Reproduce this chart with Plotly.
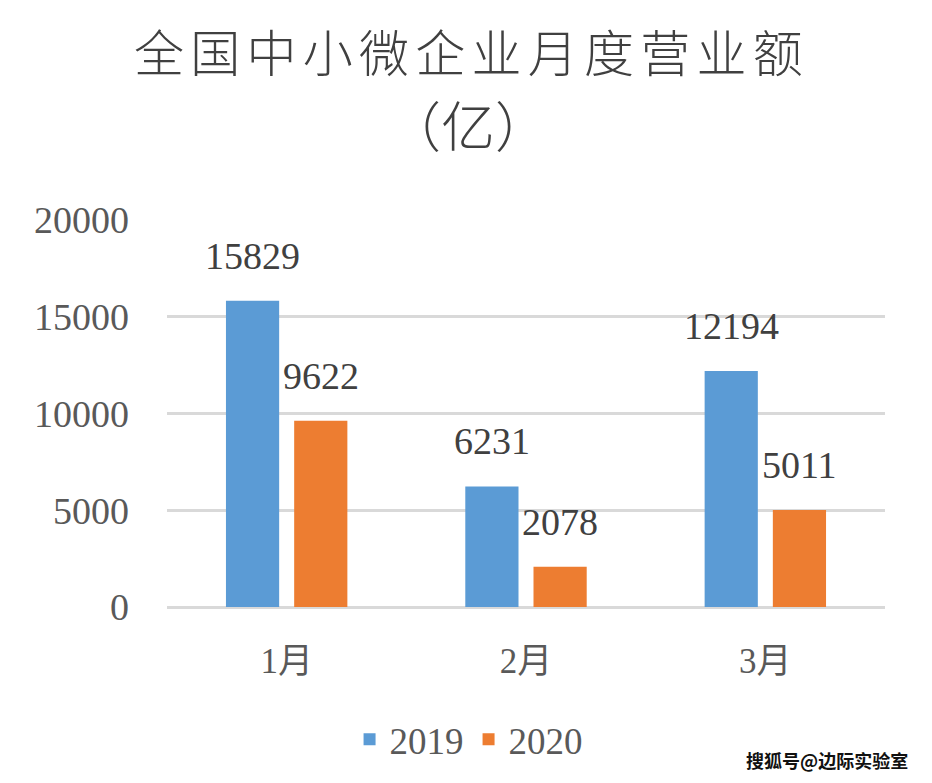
import plotly.graph_objects as go

categories = ["1月", "2月", "3月"]
series_names = ["2019", "2020"]
values_2019 = [15829, 6231, 12194]
values_2020 = [9622, 2078, 5011]
colors = ["#5B9BD5", "#ED7D31"]
y_ticks = [0, 5000, 10000, 15000, 20000]
y_tick_text = ["0", "5000", "10000", "15000", "20000"]
title_line1 = "全国中小微企业月度营业额"
title_line2 = "（亿）"

serif = "Liberation Serif"
txt = "#595959"

fig = go.Figure()
for name, vals, col in zip(series_names, [values_2019, values_2020], colors):
    fig.add_trace(go.Bar(name=name, x=categories, y=vals, marker=dict(color=col, line=dict(width=0))))

annotations = []
for vals, shift in [(values_2019, -34), (values_2020, 34)]:
    for c, v in zip(categories, vals):
        annotations.append(dict(x=c, y=v, xref="x", yref="y", text=str(v), showarrow=False,
                                xshift=shift, yshift=22, yanchor="bottom",
                                font=dict(family=serif, size=38, color="#404040")))

spaced = "\u200a\u200a".join(title_line1)
tx = 0.5 - (526 - 468) / 718
annotations.append(dict(x=tx, y=(611 - 48) / 391, xref="paper", yref="paper",
                        text=spaced, showarrow=False, xanchor="center", yanchor="middle",
                        font=dict(family="Noto Sans CJK SC", size=50, color="#404040", weight=300)))
annotations.append(dict(x=tx, y=(611 - 122) / 391, xref="paper", yref="paper",
                        text=title_line2, showarrow=False, xanchor="center", yanchor="middle",
                        font=dict(family="Noto Sans CJK SC", size=54, color="#404040", weight=300)))

annotations.append(dict(x=1.035, y=-0.395, xref="paper", yref="paper", text="搜狐号@边际实验室",
                        showarrow=False, xanchor="right", yanchor="middle",
                        font=dict(family="Noto Sans CJK SC", size=18, color="#111111", weight="bold")))

fig.update_layout(
    width=932, height=783,
    margin=dict(l=167, r=47, t=220, b=172),
    paper_bgcolor="white", plot_bgcolor="white",
    barmode="group", bargap=0.43, bargroupgap=0.22,
    xaxis=dict(showgrid=False, showline=False, ticks="", ticklabelstandoff=30,
               tickfont=dict(family="Liberation Serif, Noto Sans CJK SC", size=35, color=txt)),
    yaxis=dict(range=[0, 20000], tickvals=y_ticks, ticktext=y_tick_text, showgrid=True,
               gridcolor="#D9D9D9", gridwidth=3,
               zeroline=True, zerolinecolor="#D9D9D9", zerolinewidth=3, showline=False,
               ticks="", ticklabelstandoff=37,
               tickfont=dict(family=serif, size=38, color=txt)),
    legend=dict(orientation="h", x=0.42, xanchor="center", y=-0.343, yanchor="middle",
                font=dict(family=serif, size=37, color=txt), itemwidth=30, traceorder="normal"),
    annotations=annotations,
)

fig.write_html("out.html")
